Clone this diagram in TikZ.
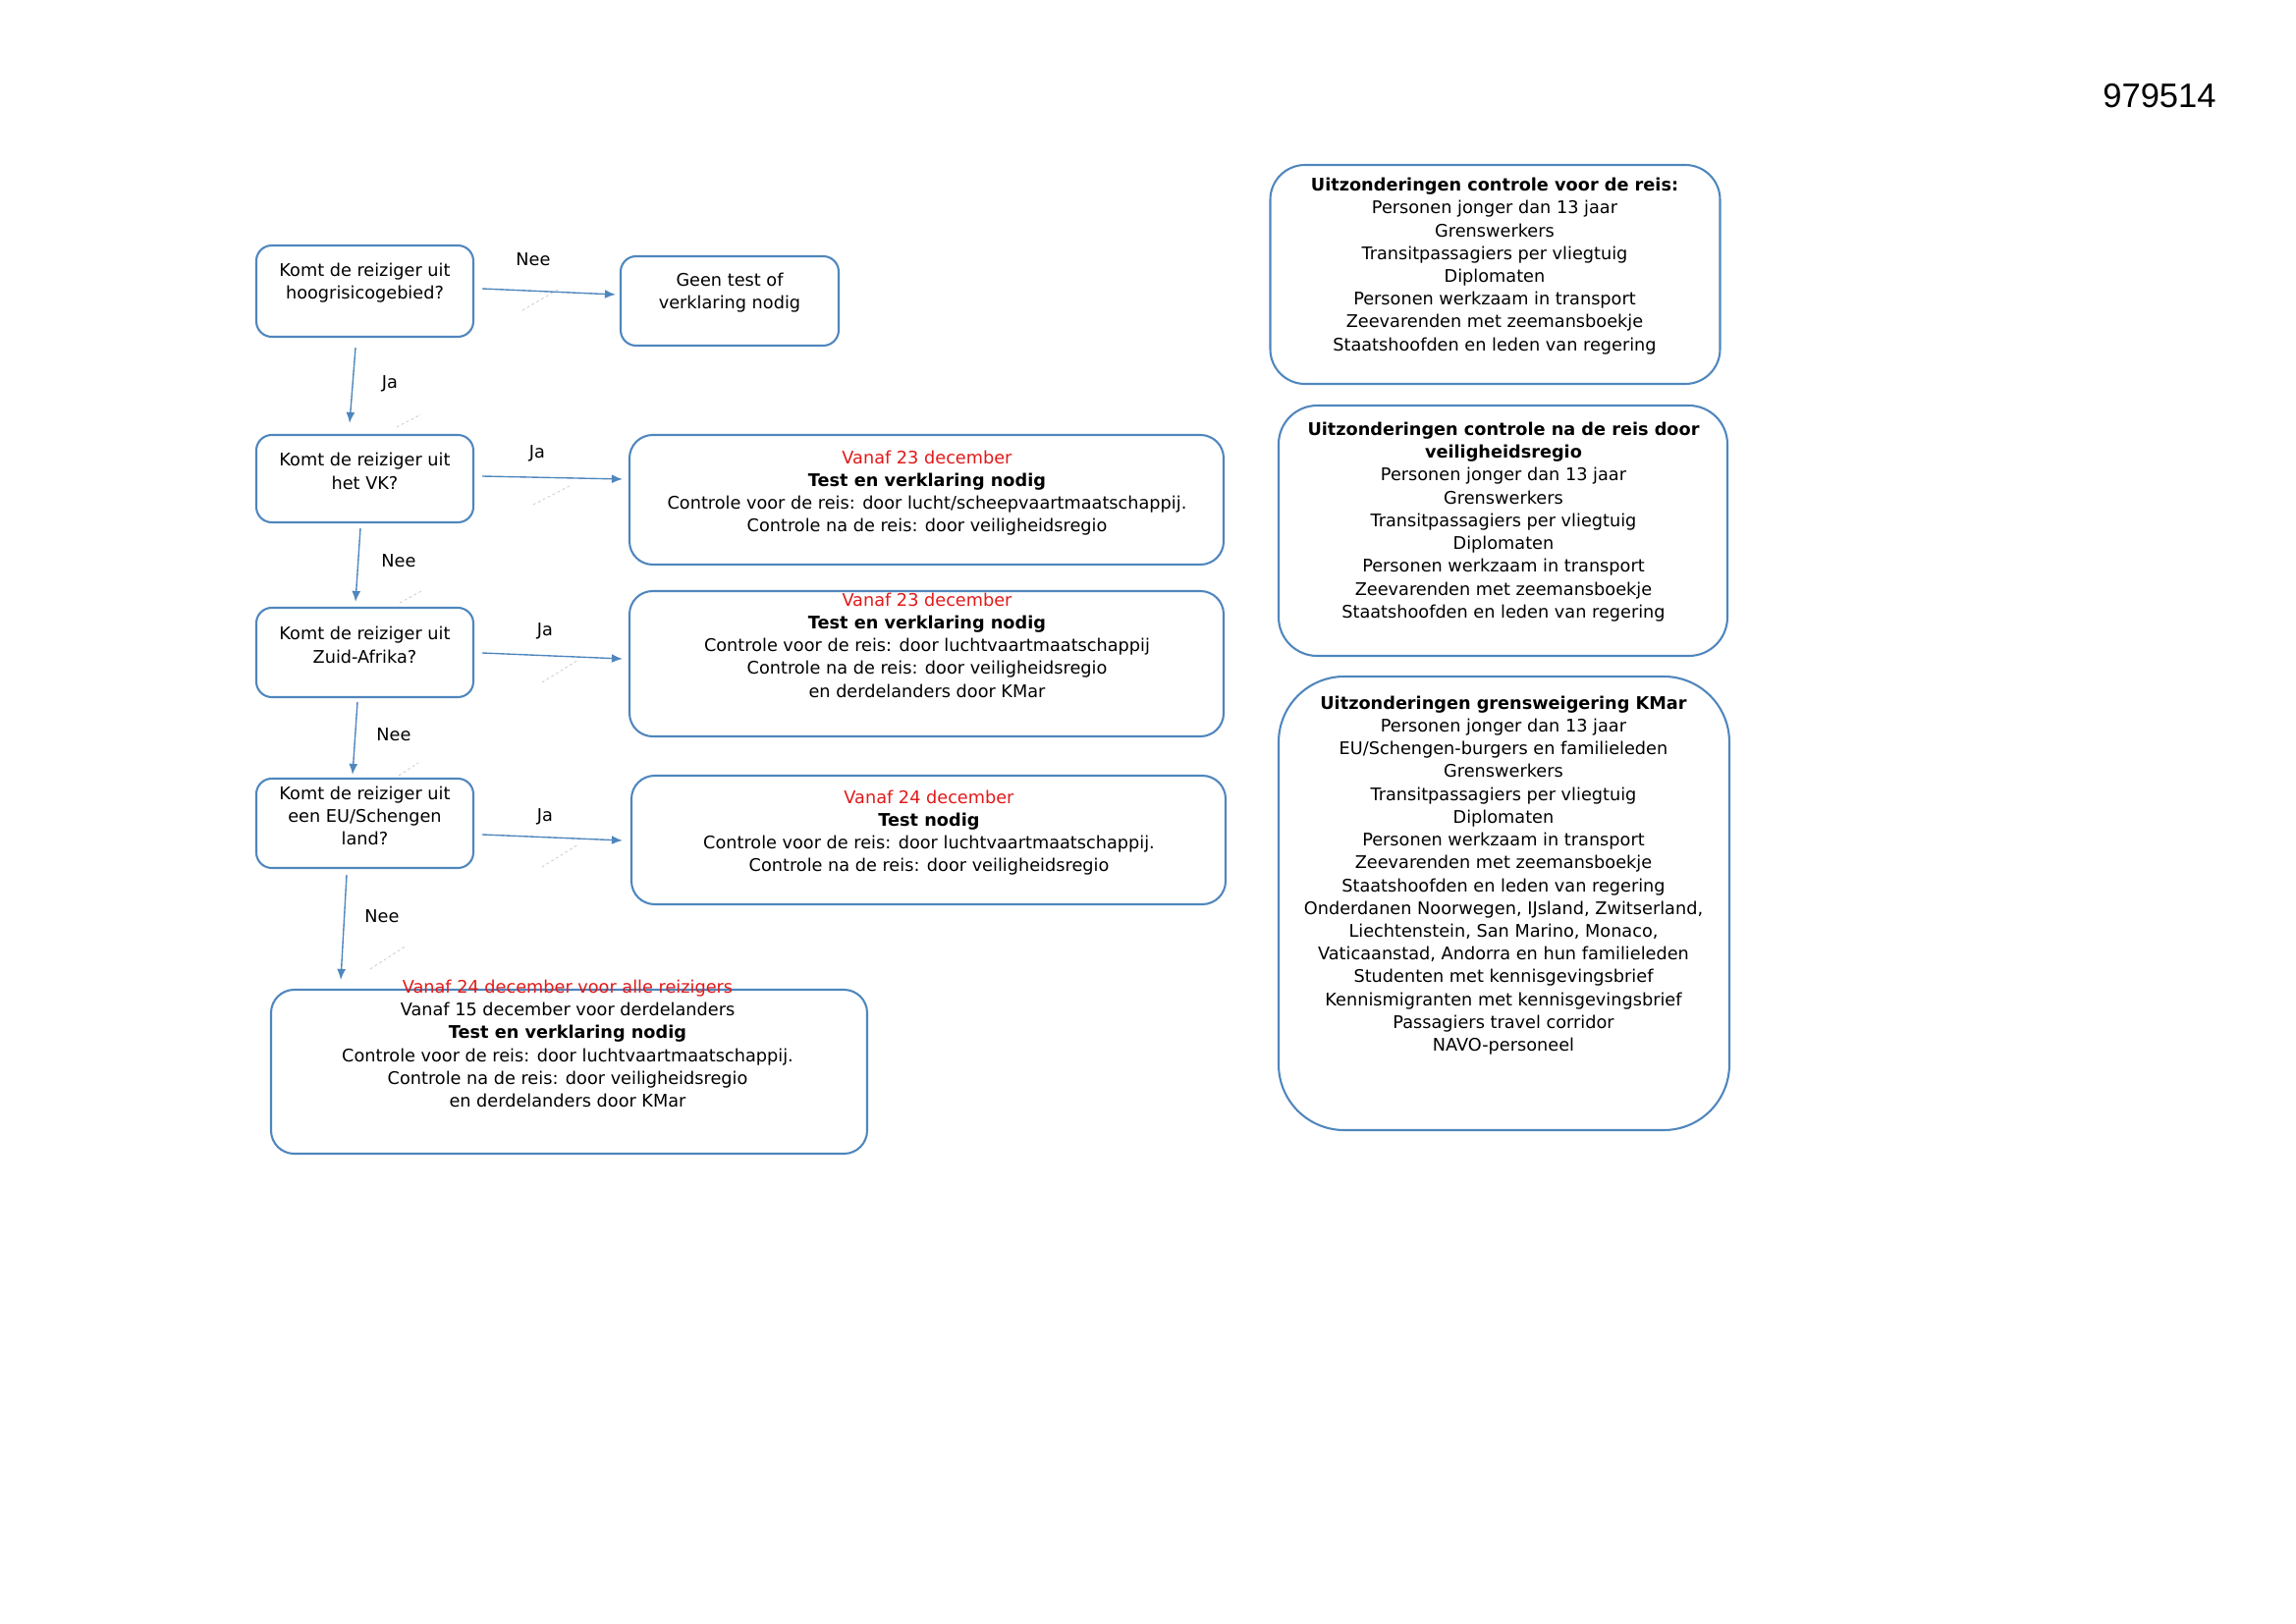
\documentclass[tikz,border=0pt]{standalone}
\usepackage{fontspec}
\setmainfont{DejaVu Sans}
\newfontfamily\numfont{Liberation Sans}
\usetikzlibrary{arrows.meta}
\definecolor{lineblue}{RGB}{79,134,189}
\definecolor{datered}{RGB}{225,25,25}
\newcommand{\px}{0.012703cm}

\begin{document}
\begin{tikzpicture}[x=\px,y=-\px,font=\fontsize{6.4}{8.4}\selectfont,>={Latex[length=4pt,width=3.2pt]},
  qbox/.style={draw=lineblue,line width=0.75pt,rounded corners=0.2cm,minimum width=221*\px,minimum height=91*\px},
  rbox/.style={draw=lineblue,line width=0.75pt,rounded corners=0.3cm,minimum width=605*\px},
  xbox/.style={draw=lineblue,line width=0.75pt,rounded corners=0.5cm,minimum width=458*\px},
  txt/.style={align=center,inner sep=0pt},
  arr/.style={->,draw=lineblue,line width=0.5pt},
  ghost/.style={draw=gray!40,line width=0.3pt,dash pattern=on 1pt off 1pt}]
\useasboundingbox (0,0) rectangle (2338,1654);
\node[font=\numfont\fontsize{12.5}{14}\selectfont] (docnr) at (2199,98) {979514};

% question boxes
\node[qbox,minimum height=93*\px] (hoog) at (371.5,296.5) {};
\node[txt] (hoogt) at (371.5,288) {Komt de reiziger uit\\hoogrisicogebied?};
\node[qbox,minimum width=222*\px] (geen) at (743,306.5) {};
\node[txt] (geent) at (743,298) {Geen test of\\verklaring nodig};
\node[qbox,minimum height=89*\px] (vk) at (371.5,487.5) {};
\node[txt] (vkt) at (371.5,480) {Komt de reiziger uit\\het VK?};
\node[qbox] (za) at (371.5,664.5) {};
\node[txt] (zat) at (371.5,657) {Komt de reiziger uit\\Zuid-Afrika?};
\node[qbox] (eu) at (371.5,838.5) {};
\node[txt] (eut) at (371.5,831) {Komt de reiziger uit\\een EU/Schengen\\land?};

% result boxes
\node[rbox,minimum height=132*\px] (vkres) at (943.5,509) {};
\node[txt] (vkrest) at (944,502) {\textcolor{datered}{Vanaf 23 december}\\\textbf{Test en verklaring nodig}\\Controle voor de reis: door lucht/scheepvaartmaatschappij.\\Controle na de reis: door veiligheidsregio};
\node[rbox,minimum height=148*\px] (zares) at (943.5,676) {};
\node[txt] (zarest) at (944,657) {\textcolor{datered}{Vanaf 23 december}\\\textbf{Test en verklaring nodig}\\Controle voor de reis: door luchtvaartmaatschappij\\Controle na de reis: door veiligheidsregio\\en derdelanders door KMar};
\node[rbox,minimum height=131*\px] (eures) at (945.5,855.5) {};
\node[txt] (eurest) at (946,848) {\textcolor{datered}{Vanaf 24 december}\\\textbf{Test nodig}\\Controle voor de reis: door luchtvaartmaatschappij.\\Controle na de reis: door veiligheidsregio};
\node[rbox,minimum width=607*\px,minimum height=167*\px] (alle) at (579.5,1091.5) {};
\node[txt] (allet) at (578,1063) {\textcolor{datered}{Vanaf 24 december voor alle reizigers}\\Vanaf 15 december voor derdelanders\\\textbf{Test en verklaring nodig}\\Controle voor de reis: door luchtvaartmaatschappij.\\Controle na de reis: door veiligheidsregio\\en derdelanders door KMar};

% exceptions
\node[xbox,rounded corners=0.45cm,minimum height=223*\px] (voor) at (1522.5,279.5) {};
\node[txt] (voort) at (1522,271) {\textbf{Uitzonderingen controle voor de reis:}\\Personen jonger dan 13 jaar\\Grenswerkers\\Transitpassagiers per vliegtuig\\Diplomaten\\Personen werkzaam in transport\\Zeevarenden met zeemansboekje\\Staatshoofden en leden van regering};
\node[xbox,minimum width=457*\px,minimum height=255*\px] (na) at (1530.5,540.5) {};
\node[txt] (nat) at (1531,531.5) {\textbf{Uitzonderingen controle na de reis door}\\\textbf{veiligheidsregio}\\Personen jonger dan 13 jaar\\Grenswerkers\\Transitpassagiers per vliegtuig\\Diplomaten\\Personen werkzaam in transport\\Zeevarenden met zeemansboekje\\Staatshoofden en leden van regering};
\node[xbox,rounded corners=0.85cm,minimum width=459*\px,minimum height=462*\px] (kmar) at (1531.5,920) {};
\node[txt] (kmart) at (1531,891.5) {\textbf{Uitzonderingen grensweigering KMar}\\Personen jonger dan 13 jaar\\EU/Schengen-burgers en familieleden\\Grenswerkers\\Transitpassagiers per vliegtuig\\Diplomaten\\Personen werkzaam in transport\\Zeevarenden met zeemansboekje\\Staatshoofden en leden van regering\\Onderdanen Noorwegen, IJsland, Zwitserland,\\Liechtenstein, San Marino, Monaco,\\Vaticaanstad, Andorra en hun familieleden\\Studenten met kennisgevingsbrief\\Kennismigranten met kennisgevingsbrief\\Passagiers travel corridor\\NAVO-personeel};

% connectors
\draw[arr] ([shift={(8,-2.5)}]hoog.east) -- ([shift={(-4,-6.5)}]geen.west);
\draw[arr] ([shift={(-9.5,10)}]hoog.south) -- ([shift={(-15.5,-11)}]vk.north);
\draw[arr] ([shift={(8,-2.5)}]vk.east) -- ([shift={(-6,-21)}]vkres.west);
\draw[arr] ([shift={(-4.5,5)}]vk.south) -- ([shift={(-9.5,-5)}]za.north);
\draw[arr] ([shift={(8,0.5)}]za.east) -- ([shift={(-6,-5)}]zares.west);
\draw[arr] ([shift={(-7.5,4)}]za.south) -- ([shift={(-12.5,-3)}]eu.north);
\draw[arr] ([shift={(8,11.5)}]eu.east) -- ([shift={(-8,0.5)}]eures.west);
\draw[arr] ([shift={(-18.5,6)}]eu.south) -- ([shift={(-232.5,-9)}]alle.north);

\node (nee1) at (543,264) {Nee};
\node (ja1) at (397,391) {Ja};
\node (ja2) at (547,462) {Ja};
\node (nee2) at (406,571) {Nee};
\node (ja3) at (555,643) {Ja};
\node (nee3) at (401,748) {Nee};
\node (ja4) at (555,832) {Ja};
\node (nee4) at (389,933) {Nee};

% faint ticks
\foreach \ax/\ay/\bx/\by in {532/316/568/295, 404/435/429/422, 543/514/580/495, 407/614/431/601,
  552/695/589/672, 406/790/426/777, 552/883/589/860, 377/987/414/963}
  \draw[ghost] (\ax,\ay) -- (\bx,\by);
\end{tikzpicture}
\end{document}
